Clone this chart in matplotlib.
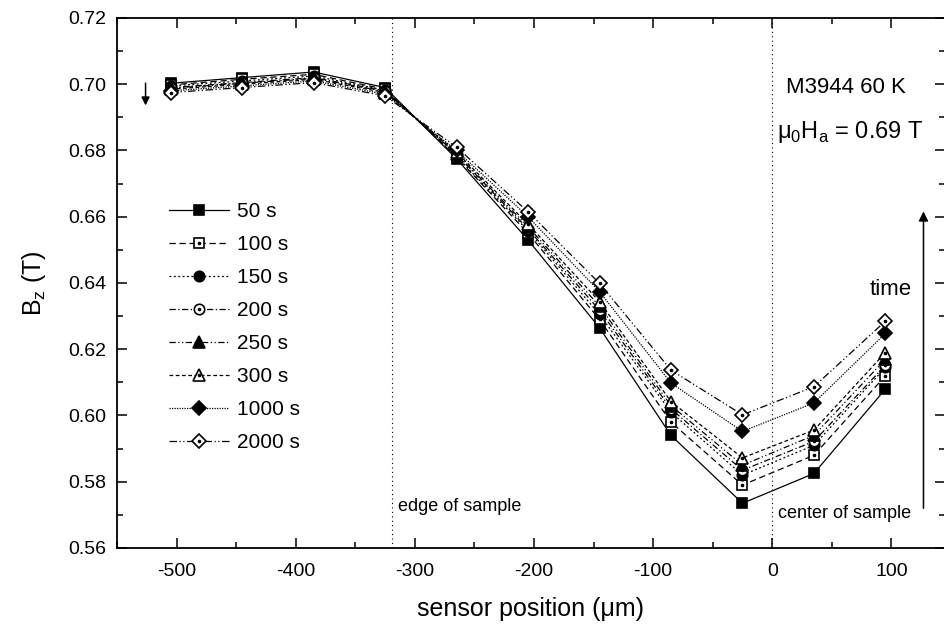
import matplotlib
matplotlib.use("Agg")
import matplotlib.pyplot as plt
from matplotlib.ticker import MultipleLocator

plt.rcParams['font.family'] = ['Liberation Sans', 'DejaVu Sans']
plt.rcParams['axes.unicode_minus'] = False

positions = [-505, -445, -385, -325, -265, -205, -145, -85, -25, 35, 95]
labels = ["50 s", "100 s", "150 s", "200 s", "250 s", "300 s", "1000 s", "2000 s"]

b_50 = [0.7003, 0.7020, 0.7037, 0.6990, 0.6775, 0.6530, 0.6265, 0.5940, 0.5735, 0.5825, 0.6080]
b_100 = [0.6998, 0.7015, 0.7030, 0.6985, 0.6780, 0.6550, 0.6290, 0.5980, 0.5790, 0.5880, 0.6120]
b_150 = [0.6995, 0.7010, 0.7025, 0.6982, 0.6782, 0.6558, 0.6305, 0.6010, 0.5820, 0.5910, 0.6145]
b_200 = [0.6990, 0.7005, 0.7020, 0.6980, 0.6788, 0.6563, 0.6318, 0.6020, 0.5835, 0.5922, 0.6152]
b_250 = [0.6988, 0.7003, 0.7018, 0.6978, 0.6790, 0.6570, 0.6330, 0.6030, 0.5850, 0.5940, 0.6170]
b_300 = [0.6985, 0.7000, 0.7015, 0.6975, 0.6795, 0.6578, 0.6344, 0.6042, 0.5872, 0.5956, 0.6190]
b_1000 = [0.6980, 0.6995, 0.7010, 0.6970, 0.6800, 0.6600, 0.6374, 0.6098, 0.5952, 0.6038, 0.6248]
b_2000 = [0.6975, 0.6990, 0.7005, 0.6965, 0.6810, 0.6615, 0.6399, 0.6137, 0.6002, 0.6087, 0.6285]

series = [b_50, b_100, b_150, b_200, b_250, b_300, b_1000, b_2000]
markers = ['s', 's', 'o', 'o', '^', '^', 'D', 'D']
filled = [True, False, True, False, True, False, True, False]
styles = ['-', (0, (5, 3)), (0, (1.5, 2)), (0, (5, 2, 1, 2)), (0, (5, 2, 1, 2, 1, 2)),
          (0, (3, 2)), (0, (1, 1)), (0, (6, 2, 1, 2, 1, 2))]
msizes = [7, 7, 7.5, 7.5, 8, 8, 7, 7]

fig = plt.figure(figsize=(9.45, 6.24), dpi=100)
ax = fig.add_axes([117/945, 1 - 548/624, 1 - 117/945, (548 - 18)/624])

handles = []
for vals, m, f, ls, ms, lab in zip(series, markers, filled, styles, msizes, labels):
    ln, = ax.plot(positions, vals, color='black', lw=0.9, linestyle=ls,
                  marker=m, markersize=ms,
                  markerfacecolor='black' if f else 'white',
                  markeredgecolor='black', markeredgewidth=1.2)
    if f:
        handles.append(ln)
    else:
        dot, = ax.plot(positions, vals, linestyle='none', marker='o',
                       markersize=1.6, color='black')
        handles.append((ln, dot))

ax.axvline(-319, color='black', lw=0.8, linestyle=(0, (1, 3)))
ax.axvline(0, color='black', lw=0.8, linestyle=(0, (1, 3)))

ax.set_xlim(-550, 145)
ax.set_ylim(0.56, 0.72)
ax.xaxis.set_major_locator(MultipleLocator(100))
ax.xaxis.set_minor_locator(MultipleLocator(50))
ax.yaxis.set_major_locator(MultipleLocator(0.02))
ax.yaxis.set_minor_locator(MultipleLocator(0.01))
ax.yaxis.set_major_formatter(plt.FormatStrFormatter('%.2f'))
ax.tick_params(which='both', direction='in', top=True, right=True, labelsize=14, width=1.1)
ax.tick_params(which='major', length=7, pad=8)
ax.tick_params(axis='x', which='major', pad=11)
ax.tick_params(which='minor', length=4)
for s in ax.spines.values():
    s.set_linewidth(1.3)

ax.set_xlabel('sensor position (μm)', fontsize=18, labelpad=12)
ax.set_ylabel(r'B$_\mathregular{z}$ (T)', fontsize=18, labelpad=14)

leg = ax.legend(handles, labels, loc='upper left', bbox_to_anchor=(0.040, 0.688),
                frameon=False, fontsize=15, handlelength=2.9, labelspacing=0.67,
                handletextpad=0.35)

ax.text(0.880, 0.868, 'M3944 60 K', transform=ax.transAxes, ha='center', va='center', fontsize=16)
ax.text(0.885, 0.785, r'μ$_\mathregular{0}$H$_\mathregular{a}$ = 0.69 T', transform=ax.transAxes,
        ha='center', va='center', fontsize=17)
ax.text(0.96, 0.487, 'time', transform=ax.transAxes, ha='right', va='center', fontsize=16)
ax.annotate('', xy=(0.974, 0.635), xytext=(0.974, 0.075), xycoords='axes fraction',
            arrowprops=dict(arrowstyle='-|>', color='black', lw=1.1, mutation_scale=14,
                            shrinkA=0, shrinkB=0))
ax.annotate('', xy=(0.0345, 0.835), xytext=(0.0345, 0.877), xycoords='axes fraction',
            arrowprops=dict(arrowstyle='-|>', color='black', lw=1.1, mutation_scale=12,
                            shrinkA=0, shrinkB=0))
ax.text(-314, 0.5725, 'edge of sample', ha='left', va='center', fontsize=13)
ax.text(5, 0.5705, 'center of sample', ha='left', va='center', fontsize=13)

fig.savefig('out.png', dpi=100)
